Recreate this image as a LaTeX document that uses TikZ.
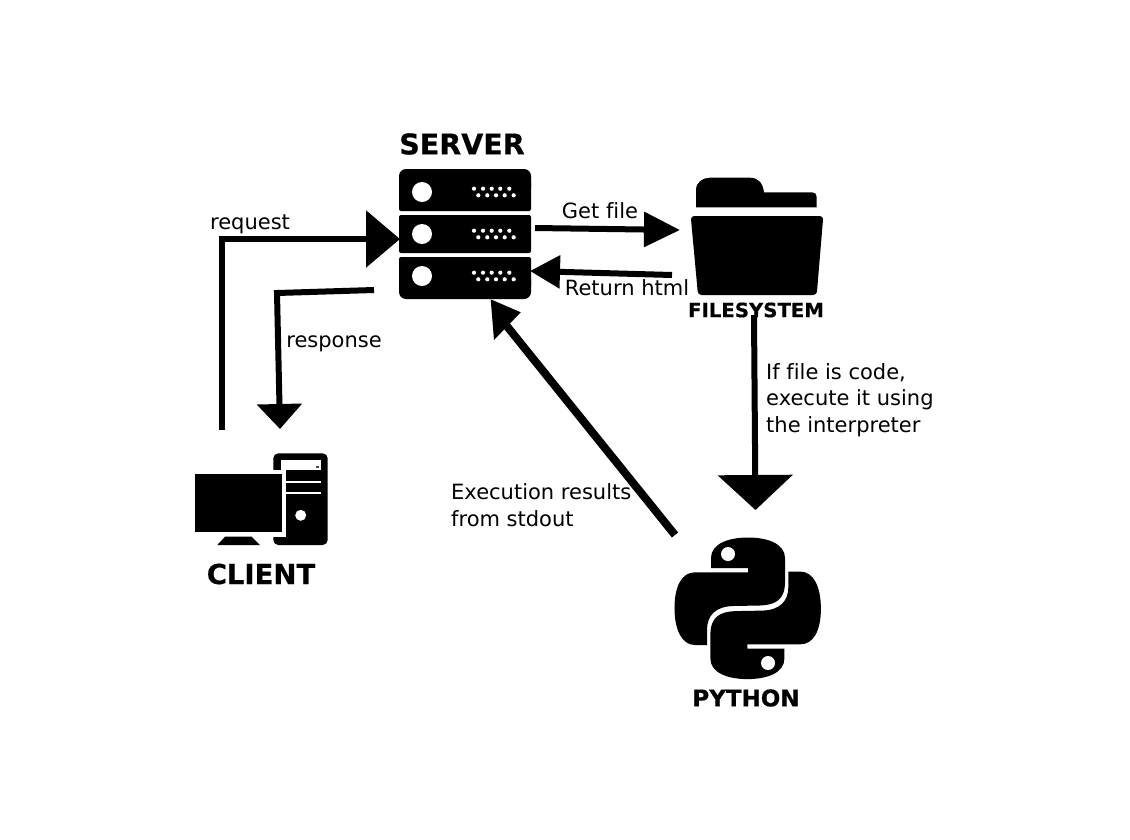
\documentclass[tikz,border=0pt]{standalone}
\usepackage{fontspec}
\setmainfont[Ligatures=NoCommon]{DejaVu Sans}
\newfontfamily\ttlfont[FakeBold=0.5]{DejaVu Sans Bold}
\usetikzlibrary{arrows.meta}
\tikzset{
  flow/.style={draw=black,line width=6pt,line join=miter},
  headA/.style={-{Triangle[length=34pt,width=56pt]}},
  headB/.style={-{Triangle[length=25pt,width=44pt]}},
  headC/.style={-{Triangle[length=35pt,width=74pt]}},
  headD/.style={-{Triangle[length=36pt,width=34pt]}},
  headE/.style={-{Triangle[length=30pt,width=32pt]}},
  lbl/.style={inner sep=0pt,font=\fontsize{21}{26.5}\selectfont,align=left,text=black},
  ttl/.style={inner sep=0pt,text=black},
  ink/.style={fill=black,draw=none},
  hole/.style={fill=white,draw=none}
}
\newcommand{\srvdots}[1]{%
  \foreach \xx in {474,483,491.7,500.3,509.3} \fill[white] (\xx,188.7+#1) circle (2.1);
  \foreach \xx in {478.3,487.3,496,504.7,513.7} \fill[white] (\xx,195.3+#1) circle (2.1);
  \fill[white] (422,192+#1) circle (10);
}
\newcommand{\snakepath}{%
  (711,568) -- (711,558) .. controls (711,544) and (728,537.5) .. (748,537.5)
  .. controls (768,537.5) and (785,544) .. (785,558) -- (785,582)
  .. controls (785,600) and (775,605) .. (760,605.5) -- (733,606)
  .. controls (716,606.5) and (707,615) .. (707,630) -- (707,645) -- (695,645)
  .. controls (682,645) and (674.5,630) .. (674.5,608)
  .. controls (674.5,586) and (682,572.3) .. (695,572.3) -- (748,572.3) -- (748,568) -- cycle}
\begin{document}
\begin{tikzpicture}[x=1pt,y=-1pt]
\useasboundingbox (0,0) rectangle (1130,839);
\fill[white] (0,0) rectangle (1130,839);

% server
\fill[ink,rounded corners=7pt] (399,169) rectangle (531,195);
\fill[ink,rounded corners=2pt] (399,180) rectangle (531,211);
\fill[ink,rounded corners=2pt] (399,215) rectangle (531,253);
\fill[ink,rounded corners=2pt] (399,257) rectangle (531,288);
\fill[ink,rounded corners=7pt] (399,272) rectangle (531,299);
\srvdots{0}\srvdots{42}\srvdots{84}

% client
\fill[ink,rounded corners=5pt] (273.3,453.3) rectangle (327.7,545);
\fill[hole] (281,459.5) rectangle (320.7,470);
\fill[hole] (286,481.3) rectangle (320.7,482.8);
\fill[hole] (286,492) rectangle (320.7,493.5);
\fill[hole] (190,470) rectangle (286,536.5);
\fill[ink] (195,474) rectangle (281.7,531.7);
\fill[ink] (225,536.7) -- (251.7,536.7) -- (260,545) -- (217.3,545) -- cycle;
\fill[hole] (300.7,515.3) circle (5.5);
\fill[black!70] (316,467.5) rectangle (319,465.5);

% folder
\fill[ink] (696,207.3) -- (696,190) .. controls (696,182) and (703,177.7) .. (710,177.7)
  -- (750,177.7) .. controls (759,177.7) and (763,184) .. (764,192.3)
  -- (812,192.3) .. controls (815,192.3) and (816.7,194) .. (816.7,197) -- (816.7,207.3) -- cycle;
\fill[ink,rounded corners=3.5pt] (690.7,216) -- (823.3,216) -- (816.7,295) -- (698,295) -- cycle;

% python
\fill[ink] \snakepath;
\begin{scope}[shift={(1495.4,1216.6)},x=-1pt,y=1pt]
\fill[ink] \snakepath;
\end{scope}
\fill[hole] (728,554) circle (7);
\fill[hole] (768,663) circle (7);

% connector ends
\coordinate (clientOut) at (222,430);
\coordinate (reqBend) at (222,239);
\coordinate (serverIn) at (400,239);
\coordinate (serverOut) at (374,290);
\coordinate (respBend) at (277,293);
\coordinate (clientIn) at (280,429);
\coordinate (getFrom) at (535,228);
\coordinate (getTo) at (680,230);
\coordinate (retFrom) at (672,275);
\coordinate (retTo) at (530,271);
\coordinate (fsOut) at (754,315);
\coordinate (pyIn) at (755.5,510);
\coordinate (pyOut) at (675,535);
\coordinate (backBase) at (506,325);
\coordinate (backTip) at (490.7,299.3);
\coordinate (backL) at (520.7,312.3);
\coordinate (backR) at (494,340);

\draw[flow,headA] (clientOut) -- (reqBend) -- (serverIn);
\draw[flow,headB] (serverOut) -- (respBend) -- (clientIn);
\draw[flow,headD] (getFrom) -- (getTo);
\draw[flow,headE] (retFrom) -- (retTo);
\draw[flow,headC] (fsOut) -- (pyIn);
\draw[flow,line width=8pt] (pyOut) -- (backBase);
\fill[ink] (backTip) -- (backL) -- (backR) -- cycle;

% labels
\node[ttl,font=\ttlfont\fontsize{28.5}{32}\selectfont] (server) at (462,144) {SERVER};
\node[ttl,font=\ttlfont\fontsize{27.5}{30}\selectfont] (client) at (261,574) {CLIENT};
\node[ttl,font=\ttlfont\fontsize{23}{28}\selectfont] (python) at (746,698) {PYTHON};
\node[ttl,font=\ttlfont\fontsize{19.7}{24}\selectfont] (filesystem) at (756,310) {FILESYSTEM};
\node[lbl] (request) at (250,224) {request};
\node[lbl] (response) at (334,344) {response};
\node[lbl] (getfile) at (600,211) {Get file};
\node[lbl] (rethtml) at (627,288) {Return html};
\node[lbl,anchor=west] (ifcode) at (766,400) {If file is code,\\execute it using\\the interpreter};
\node[lbl,anchor=west] (exec) at (451,505) {Execution results\\from stdout};
\end{tikzpicture}
\end{document}
